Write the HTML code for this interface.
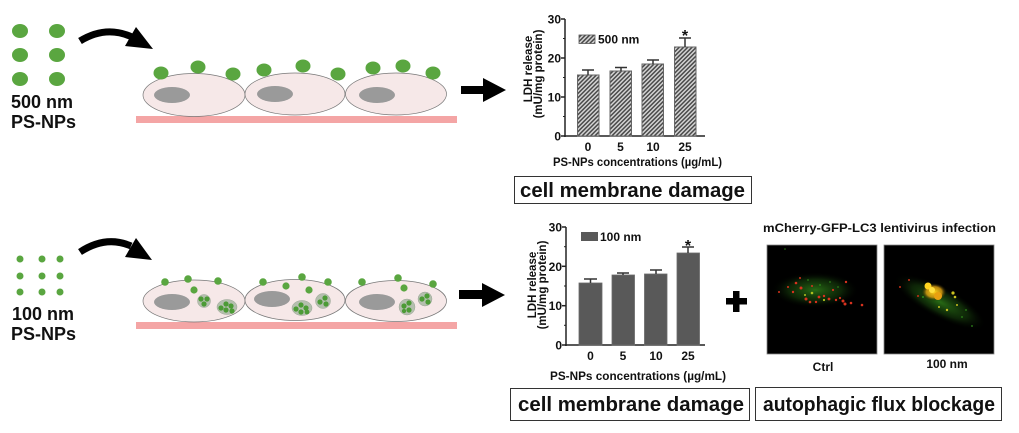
<!DOCTYPE html>
<html><head><meta charset="utf-8"><style>
html,body{margin:0;padding:0;background:#fff;}
svg{display:block;}
text{font-family:"Liberation Sans",Arial,sans-serif;font-weight:bold;fill:#111;}
</style></head><body>
<svg width="1019" height="433" viewBox="0 0 1019 433" xmlns="http://www.w3.org/2000/svg">
<defs>
<pattern id="hatch" patternUnits="userSpaceOnUse" width="3" height="3" patternTransform="rotate(45)">
<rect width="3" height="3" fill="#d4d4d4"/>
<rect width="1.5" height="3" fill="#4a4a4a"/>
</pattern>
<radialGradient id="gh1" cx="0.5" cy="0.5" r="0.5"><stop offset="0" stop-color="#2a7016" stop-opacity="0.95"/><stop offset="0.6" stop-color="#163d0c" stop-opacity="0.6"/><stop offset="1" stop-color="#000" stop-opacity="0"/></radialGradient>
<radialGradient id="yb" cx="0.5" cy="0.5" r="0.5"><stop offset="0" stop-color="#ffd21a"/><stop offset="0.6" stop-color="#e0a010" stop-opacity="0.8"/><stop offset="1" stop-color="#000" stop-opacity="0"/></radialGradient>
</defs>

<!-- ===== TOP ROW ===== -->
<g fill="#5aa640">
<ellipse cx="20" cy="31" rx="8" ry="7"/><ellipse cx="57" cy="31" rx="8" ry="7"/>
<ellipse cx="20" cy="55" rx="8" ry="7"/><ellipse cx="57" cy="55" rx="8" ry="7"/>
<ellipse cx="20" cy="79" rx="8" ry="7"/><ellipse cx="57" cy="79" rx="8" ry="7"/>
</g>
<text x="11" y="108" font-size="18">500 nm</text>
<text x="11" y="128" font-size="18">PS-NPs</text>
<path d="M80,41 Q106,25 132,37" fill="none" stroke="#000" stroke-width="7"/>
<polygon points="136,27 125,46 153,49" fill="#000"/>
<rect x="136" y="116" width="321" height="7" fill="#f4a5a5"/>
<g fill="#f6e8e8" stroke="#777" stroke-width="0.7">
<ellipse cx="194" cy="95" rx="51" ry="21.5"/>
<ellipse cx="295" cy="94" rx="50" ry="21"/>
<ellipse cx="396" cy="94" rx="50.5" ry="21"/>
</g>
<g fill="#9a9a9a">
<ellipse cx="172" cy="95" rx="18" ry="8"/>
<ellipse cx="275" cy="94" rx="18" ry="8"/>
<ellipse cx="377" cy="95" rx="18" ry="8"/>
</g>
<g fill="#5aa640">
<ellipse cx="161" cy="73" rx="7.5" ry="6.5"/><ellipse cx="198" cy="67" rx="7.5" ry="6.5"/><ellipse cx="233" cy="74" rx="7.5" ry="6.5"/>
<ellipse cx="264" cy="70" rx="7.5" ry="6.5"/><ellipse cx="303" cy="66" rx="7.5" ry="6.5"/><ellipse cx="338" cy="74" rx="7.5" ry="6.5"/>
<ellipse cx="373" cy="68" rx="7.5" ry="6.5"/><ellipse cx="403" cy="66" rx="7.5" ry="6.5"/><ellipse cx="433" cy="73" rx="7.5" ry="6.5"/>
</g>
<polygon points="461,86 483,86 483,78 506,90 483,102 483,94 461,94" fill="#000"/>

<!-- top chart -->
<g stroke="#222" stroke-width="1.5" fill="none">
<line x1="565" y1="19" x2="565" y2="137"/>
<line x1="564" y1="136" x2="705" y2="136"/>
<line x1="561" y1="19" x2="565" y2="19"/><line x1="561" y1="58" x2="565" y2="58"/><line x1="561" y1="97" x2="565" y2="97"/><line x1="561" y1="136" x2="565" y2="136"/>
</g>
<g stroke="#222" stroke-width="1">
<line x1="563" y1="38.5" x2="565" y2="38.5"/><line x1="563" y1="77.5" x2="565" y2="77.5"/><line x1="563" y1="116.5" x2="565" y2="116.5"/>
</g>
<g font-size="12" text-anchor="end">
<text x="561" y="23.5">30</text><text x="561" y="62.5">20</text><text x="561" y="101.5">10</text><text x="561" y="140.5">0</text>
</g>
<g stroke="#666" stroke-width="1" fill="url(#hatch)">
<rect x="577.5" y="75" width="21.5" height="61"/>
<rect x="610" y="71" width="21.5" height="65"/>
<rect x="642" y="64" width="21.5" height="72"/>
<rect x="674.5" y="47" width="21.5" height="89"/>
</g>
<g stroke="#333" stroke-width="1.5">
<line x1="588" y1="75" x2="588" y2="70"/><line x1="582" y1="70" x2="594" y2="70"/>
<line x1="621" y1="71" x2="621" y2="67.5"/><line x1="615" y1="67.5" x2="627" y2="67.5"/>
<line x1="653" y1="64" x2="653" y2="60"/><line x1="647" y1="60" x2="659" y2="60"/>
<line x1="685" y1="47" x2="685" y2="38"/><line x1="679" y1="38" x2="691" y2="38"/>
</g>
<text x="685" y="41" font-size="16" text-anchor="middle">*</text>
<rect x="579" y="35" width="16" height="8.5" fill="url(#hatch)" stroke="#555" stroke-width="0.8"/>
<text x="598" y="43.5" font-size="12">500 nm</text>
<g font-size="12" text-anchor="middle">
<text x="588" y="151">0</text><text x="620.5" y="151">5</text><text x="653" y="151">10</text><text x="685" y="151">25</text>
</g>
<text x="553" y="166" font-size="11.5" textLength="169" lengthAdjust="spacingAndGlyphs">PS-NPs concentrations (µg/mL)</text>
<text transform="translate(532,69) rotate(-90)" font-size="11.5" text-anchor="middle">LDH release</text>
<text transform="translate(542,74) rotate(-90)" font-size="11.5" text-anchor="middle">(mU/mg protein)</text>
<rect x="514.5" y="176.5" width="237" height="27" fill="none" stroke="#333" stroke-width="1"/>
<text x="520" y="197" font-size="20" textLength="225" lengthAdjust="spacingAndGlyphs">cell membrane damage</text>

<!-- ===== BOTTOM ROW ===== -->
<g fill="#5aa640">
<circle cx="20" cy="259" r="3.5"/><circle cx="42" cy="259" r="3.5"/><circle cx="60" cy="259" r="3.5"/>
<circle cx="20" cy="276" r="3.5"/><circle cx="42" cy="276" r="3.5"/><circle cx="60" cy="276" r="3.5"/>
<circle cx="20" cy="292" r="3.5"/><circle cx="42" cy="292" r="3.5"/><circle cx="60" cy="292" r="3.5"/>
</g>
<text x="12" y="320" font-size="18">100 nm</text>
<text x="11" y="340" font-size="18">PS-NPs</text>
<path d="M80,252 Q106,235 131,246" fill="none" stroke="#000" stroke-width="7"/>
<polygon points="136,238 125,257 152,260" fill="#000"/>
<rect x="136" y="322" width="321" height="7" fill="#f4a5a5"/>
<g fill="#f6e8e8" stroke="#777" stroke-width="0.7">
<ellipse cx="194" cy="301" rx="51" ry="21"/>
<ellipse cx="295" cy="300" rx="50" ry="20.5"/>
<ellipse cx="396" cy="301" rx="50.5" ry="20.5"/>
</g>
<g fill="#9a9a9a">
<ellipse cx="172" cy="302" rx="18" ry="8"/>
<ellipse cx="272" cy="299" rx="18" ry="8"/>
<ellipse cx="377" cy="302" rx="18" ry="8"/>
</g>
<g fill="#b4bfae" stroke="#9aa596" stroke-width="0.5">
<circle cx="204" cy="301" r="6.5"/><ellipse cx="227" cy="307" rx="10" ry="7.5"/>
<ellipse cx="302" cy="308" rx="10" ry="7.5"/><circle cx="323" cy="301" r="7.5"/>
<circle cx="407" cy="307" r="8"/><circle cx="425" cy="299" r="7"/>
</g>
<g fill="#4c9b36">
<circle cx="201" cy="299" r="2.6"/><circle cx="207" cy="299" r="2.6"/><circle cx="204" cy="304" r="2.6"/>
<circle cx="221" cy="308" r="2.6"/><circle cx="226" cy="304" r="2.6"/><circle cx="231" cy="306" r="2.6"/><circle cx="226" cy="310" r="2.6"/><circle cx="232" cy="311" r="2.6"/>
<circle cx="296" cy="309" r="2.6"/><circle cx="301" cy="305" r="2.6"/><circle cx="306" cy="308" r="2.6"/><circle cx="301" cy="312" r="2.6"/><circle cx="307" cy="312" r="2.4"/>
<circle cx="320" cy="302" r="2.6"/><circle cx="325" cy="298" r="2.6"/><circle cx="326" cy="304" r="2.6"/>
<circle cx="404" cy="306" r="2.6"/><circle cx="409" cy="303" r="2.6"/><circle cx="409" cy="310" r="2.6"/><circle cx="404" cy="311" r="2.2"/>
<circle cx="422" cy="299" r="2.6"/><circle cx="427" cy="296" r="2.6"/><circle cx="428" cy="302" r="2.6"/>
</g>
<g fill="#5aa640">
<circle cx="165" cy="282" r="3.8"/><circle cx="188" cy="279" r="3.8"/><circle cx="218" cy="281" r="3.8"/><circle cx="194" cy="290" r="3.6"/>
<circle cx="263" cy="282" r="3.8"/><circle cx="302" cy="277" r="3.8"/><circle cx="328" cy="282" r="3.8"/><circle cx="286" cy="286" r="3.6"/><circle cx="309" cy="290" r="3.6"/>
<circle cx="362" cy="282" r="3.8"/><circle cx="398" cy="278" r="3.8"/><circle cx="433" cy="284" r="3.8"/><circle cx="404" cy="288" r="3.6"/>
</g>
<polygon points="459,290 482,290 482,283 505,295 482,307 482,299 459,299" fill="#000"/>

<!-- bottom chart -->
<g stroke="#222" stroke-width="1.5" fill="none">
<line x1="566" y1="227" x2="566" y2="346"/>
<line x1="565" y1="345" x2="705" y2="345"/>
<line x1="562" y1="227" x2="566" y2="227"/><line x1="562" y1="266.3" x2="566" y2="266.3"/><line x1="562" y1="305.7" x2="566" y2="305.7"/><line x1="562" y1="345" x2="566" y2="345"/>
</g>
<g stroke="#222" stroke-width="1">
<line x1="564" y1="246.7" x2="566" y2="246.7"/><line x1="564" y1="286" x2="566" y2="286"/><line x1="564" y1="325.3" x2="566" y2="325.3"/>
</g>
<g font-size="12" text-anchor="end">
<text x="562" y="231.5">30</text><text x="562" y="270.8">20</text><text x="562" y="310.2">10</text><text x="562" y="349.5">0</text>
</g>
<g fill="#595959" stroke="#6a6a6a" stroke-width="0.8">
<rect x="579" y="283" width="23" height="62"/>
<rect x="612" y="275" width="22.5" height="70"/>
<rect x="644.5" y="274" width="22.5" height="71"/>
<rect x="677" y="253" width="22.5" height="92"/>
</g>
<g stroke="#333" stroke-width="1.5">
<line x1="590.5" y1="283" x2="590.5" y2="279"/><line x1="584" y1="279" x2="597" y2="279"/>
<line x1="623" y1="275" x2="623" y2="273"/><line x1="617" y1="273" x2="629" y2="273"/>
<line x1="656" y1="274" x2="656" y2="270"/><line x1="650" y1="270" x2="662" y2="270"/>
<line x1="688" y1="253" x2="688" y2="247"/><line x1="682" y1="247" x2="694" y2="247"/>
</g>
<text x="688" y="251" font-size="16" text-anchor="middle">*</text>
<rect x="581" y="232" width="17" height="9" fill="#595959"/>
<text x="600" y="241" font-size="12">100 nm</text>
<g font-size="12" text-anchor="middle">
<text x="590.5" y="360">0</text><text x="623" y="360">5</text><text x="656" y="360">10</text><text x="688" y="360">25</text>
</g>
<text x="550" y="380" font-size="11.5" textLength="176" lengthAdjust="spacingAndGlyphs">PS-NPs concentrations (µg/mL)</text>
<text transform="translate(536,285) rotate(-90)" font-size="11.5" text-anchor="middle">LDH release</text>
<text transform="translate(546,285) rotate(-90)" font-size="11.5" text-anchor="middle">(mU/mg protein)</text>
<rect x="510.5" y="388.5" width="239" height="32" fill="none" stroke="#333" stroke-width="1"/>
<text x="518" y="411" font-size="20" textLength="226" lengthAdjust="spacingAndGlyphs">cell membrane damage</text>

<rect x="726" y="298" width="21" height="6.5" fill="#000"/>
<rect x="733" y="291" width="6.5" height="21" fill="#000"/>

<!-- fluorescence -->
<text x="763" y="232" font-size="11.5" textLength="233" lengthAdjust="spacingAndGlyphs">mCherry-GFP-LC3 lentivirus infection</text>
<rect x="767" y="245" width="110" height="109" fill="#000" stroke="#888" stroke-width="0.8"/>
<rect x="884" y="245" width="110" height="109" fill="#000" stroke="#888" stroke-width="0.8"/>
<ellipse cx="815" cy="290" rx="44" ry="18" fill="url(#gh1)"/>
<g fill="#d8321e">
<circle cx="796" cy="283" r="1.3"/><circle cx="801" cy="288" r="1.5"/><circle cx="793" cy="292" r="1.2"/><circle cx="806" cy="299" r="1.5"/><circle cx="810" cy="302" r="1.3"/><circle cx="819" cy="297" r="1.4"/><circle cx="824" cy="296" r="1.2"/><circle cx="829" cy="299" r="1.4"/><circle cx="836" cy="300" r="1.2"/><circle cx="843" cy="301" r="1.5"/><circle cx="845" cy="304" r="1.5"/><circle cx="851" cy="303" r="1.3"/><circle cx="862" cy="305" r="1.3"/><circle cx="846" cy="282" r="1.2"/><circle cx="788" cy="287" r="1"/><circle cx="779" cy="292" r="1"/><circle cx="812" cy="286" r="1"/><circle cx="833" cy="290" r="1.1"/><circle cx="800" cy="278" r="1"/><circle cx="840" cy="298" r="1.1"/><circle cx="816" cy="302" r="1.2"/>
</g>
<g fill="#b0c020"><circle cx="812" cy="293" r="1.3"/><circle cx="824" cy="300" r="1.1"/><circle cx="805" cy="295" r="1"/></g>
<g fill="#2a7a18"><circle cx="820" cy="285" r="1"/><circle cx="830" cy="282" r="0.9"/><circle cx="808" cy="280" r="0.9"/><circle cx="838" cy="287" r="0.9"/><circle cx="785" cy="249" r="0.8"/></g>
<ellipse cx="940" cy="302" rx="52" ry="16" transform="rotate(28 940 302)" fill="url(#gh1)"/>
<ellipse cx="934" cy="292" rx="13" ry="9" fill="url(#yb)"/>
<circle cx="928" cy="286" r="3.5" fill="#ffd520"/><circle cx="938" cy="296" r="4" fill="#e8a010"/><circle cx="932" cy="290" r="3" fill="#ffe040"/>
<g fill="#c8c020"><circle cx="953" cy="293" r="1.6"/><circle cx="955" cy="297" r="1.3"/><circle cx="947" cy="310" r="1.2"/><circle cx="939" cy="307" r="1"/><circle cx="957" cy="305" r="1"/></g>
<g fill="#c83018"><circle cx="909" cy="280" r="1"/><circle cx="900" cy="287" r="1"/><circle cx="918" cy="296" r="1"/></g>
<g fill="#2f8a1a"><circle cx="923" cy="297" r="1"/><circle cx="962" cy="317" r="0.9"/><circle cx="972" cy="326" r="0.9"/><circle cx="966" cy="310" r="0.9"/></g>
<text x="823" y="371" font-size="12" text-anchor="middle">Ctrl</text>
<text x="947" y="368" font-size="12" text-anchor="middle">100 nm</text>
<rect x="755.5" y="387.5" width="246" height="33" fill="none" stroke="#333" stroke-width="1"/>
<text x="763" y="411" font-size="20" textLength="232" lengthAdjust="spacingAndGlyphs">autophagic flux blockage</text>
</svg>
</body></html>
